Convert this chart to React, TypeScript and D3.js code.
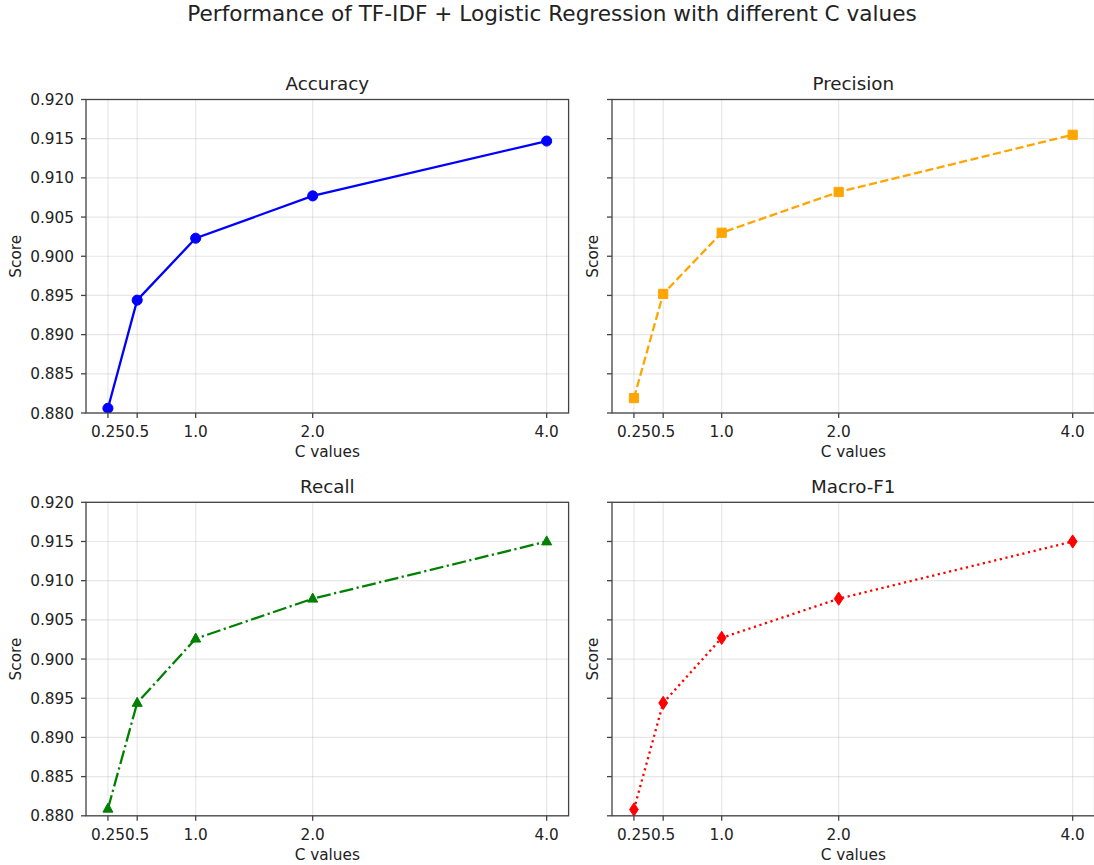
import React, { useRef, useEffect } from "react";
import * as d3 from "d3";

// C values tried and the scores
const cValues = [0.25, 0.5, 1.0, 2.0, 4.0];
const xTickLabels = ["0.25", "0.5", "1.0", "2.0", "4.0"];
const accuracy = [0.8806, 0.8944, 0.9023, 0.9077, 0.9147];
const precision = [0.8819, 0.8952, 0.903, 0.9082, 0.9155];
const recall = [0.8809, 0.8944, 0.9026, 0.9077, 0.915];
const macroF1 = [0.8808, 0.8944, 0.9027, 0.9077, 0.915];
const yTicks = [0.88, 0.885, 0.89, 0.895, 0.9, 0.905, 0.91, 0.915, 0.92];

const panels = [
  { title: "Accuracy", values: accuracy, color: "#0000ff", dash: null, marker: "circle", col: 0, row: 0 },
  { title: "Precision", values: precision, color: "#ffa500", dash: "8.1,3.5", marker: "square", col: 1, row: 0 },
  { title: "Recall", values: recall, color: "#008000", dash: "14,3.5,2.2,3.5", marker: "triangle", col: 0, row: 1 },
  { title: "Macro-F1", values: macroF1, color: "#ff0000", dash: "2.2,3.6", marker: "thin_diamond", col: 1, row: 1 },
];

const FONT = "DejaVu Sans, sans-serif";
const TICK_SIZE = "15.3px";

const App = () => {
  const svgRef = useRef<SVGSVGElement>(null);

  useEffect(() => {
    const width = 1094;
    const height = 865;
    const lefts = [86, 612];
    const tops = [99.5, 502.3];
    const axW = 482.6;
    const axH = 313.5;

    const svg = d3.select(svgRef.current).attr("width", width).attr("height", height);
    svg.selectAll("*").remove();

    svg
      .append("text")
      .attr("x", 552)
      .attr("y", 21)
      .attr("text-anchor", "middle")
      .style("font-family", FONT)
      .style("font-size", "21.6px")
      .attr("fill", "#222")
      .text("Performance of TF-IDF + Logistic Regression with different C values");

    const xPad = (4.0 - 0.25) * 0.05;
    const defs = svg.append("defs");

    panels.forEach((p, i) => {
      const x0 = lefts[p.col];
      const y0 = tops[p.row];

      const x = d3
        .scaleLinear()
        .domain([0.25 - xPad, 4.0 + xPad])
        .range([x0, x0 + axW]);
      const y = d3
        .scaleLinear()
        .domain([0.88, 0.92])
        .range([y0 + axH, y0]);

      const g = svg.append("g");

      // grid
      g.selectAll(".vgrid")
        .data(cValues)
        .enter()
        .append("line")
        .attr("x1", (d) => x(d))
        .attr("x2", (d) => x(d))
        .attr("y1", y0)
        .attr("y2", y0 + axH)
        .attr("stroke", "#b0b0b0")
        .attr("stroke-opacity", 0.3)
        .attr("stroke-width", 1.2);
      g.selectAll(".hgrid")
        .data(yTicks)
        .enter()
        .append("line")
        .attr("x1", x0)
        .attr("x2", x0 + axW)
        .attr("y1", (d) => y(d))
        .attr("y2", (d) => y(d))
        .attr("stroke", "#b0b0b0")
        .attr("stroke-opacity", 0.3)
        .attr("stroke-width", 1.2);

      // clip
      defs
        .append("clipPath")
        .attr("id", `clip${i}`)
        .append("rect")
        .attr("x", x0)
        .attr("y", y0)
        .attr("width", axW)
        .attr("height", axH);

      const pts = cValues.map((c, j) => ({ c, v: p.values[j] }));
      const line = d3
        .line<{ c: number; v: number }>()
        .x((d) => x(d.c))
        .y((d) => y(d.v));

      const plot = g.append("g").attr("clip-path", `url(#clip${i})`);
      plot
        .append("path")
        .datum(pts)
        .attr("fill", "none")
        .attr("stroke", p.color)
        .attr("stroke-width", 2.3)
        .attr("stroke-dasharray", p.dash)
        .attr("d", line);

      const markerPath = () => {
        if (p.marker === "circle") return d3.symbol(d3.symbolCircle, 80)();
        if (p.marker === "square") return "M-4.6,-4.6H4.6V4.6H-4.6Z";
        if (p.marker === "triangle") return "M0,-5.6L5,3.4L-5,3.4Z";
        return "M0,-6.6L4.4,0L0,6.6L-4.4,0Z";
      };

      plot
        .selectAll(".mk")
        .data(pts)
        .enter()
        .append("path")
        .attr("transform", (d) => `translate(${x(d.c)},${y(d.v)})`)
        .attr("d", markerPath)
        .attr("fill", p.color)
        .attr("stroke", p.color)
        .attr("stroke-width", 1);

      // spines
      g.append("rect")
        .attr("x", x0)
        .attr("y", y0)
        .attr("width", axW)
        .attr("height", axH)
        .attr("fill", "none")
        .attr("stroke", "#444")
        .attr("stroke-width", 1.3);

      // x axis
      g.selectAll(".xt")
        .data(cValues)
        .enter()
        .append("line")
        .attr("x1", (d) => x(d))
        .attr("x2", (d) => x(d))
        .attr("y1", y0 + axH)
        .attr("y2", y0 + axH + 5)
        .attr("stroke", "#444")
        .attr("stroke-width", 1.3);
      g.selectAll(".xl")
        .data(cValues)
        .enter()
        .append("text")
        .attr("x", (d) => x(d))
        .attr("y", y0 + axH + 24)
        .attr("text-anchor", "middle")
        .style("font-family", FONT)
        .style("font-size", TICK_SIZE)
        .attr("fill", "#222")
        .text((_, j) => xTickLabels[j]);
      g.append("text")
        .attr("x", x0 + axW / 2)
        .attr("y", y0 + axH + 44)
        .attr("text-anchor", "middle")
        .style("font-family", FONT)
        .style("font-size", TICK_SIZE)
        .attr("fill", "#222")
        .text("C values");

      // y axis
      g.selectAll(".yt")
        .data(yTicks)
        .enter()
        .append("line")
        .attr("x1", x0 - 5)
        .attr("x2", x0)
        .attr("y1", (d) => y(d))
        .attr("y2", (d) => y(d))
        .attr("stroke", "#444")
        .attr("stroke-width", 1.3);
      if (p.col === 0) {
        g.selectAll(".yl")
          .data(yTicks)
          .enter()
          .append("text")
          .attr("x", x0 - 12)
          .attr("y", (d) => y(d))
          .attr("dy", "0.36em")
          .attr("text-anchor", "end")
          .style("font-family", FONT)
          .style("font-size", TICK_SIZE)
          .attr("fill", "#222")
          .text((d) => d3.format(".3f")(d));
      }
      const labelX = p.col === 0 ? 21 : x0 - 14;
      g.append("text")
        .attr("transform", `translate(${labelX},${y0 + axH / 2}) rotate(-90)`)
        .attr("text-anchor", "middle")
        .style("font-family", FONT)
        .style("font-size", TICK_SIZE)
        .attr("fill", "#222")
        .text("Score");

      // panel title
      g.append("text")
        .attr("x", x0 + axW / 2)
        .attr("y", y0 - 9.5)
        .attr("text-anchor", "middle")
        .style("font-family", FONT)
        .style("font-size", "18.3px")
        .attr("fill", "#222")
        .text(p.title);
    });
  }, []);

  return (
    <div style={{ position: "absolute", left: 0, top: 0 }}>
      <svg ref={svgRef} style={{ display: "block" }}></svg>
    </div>
  );
};

export default App;
